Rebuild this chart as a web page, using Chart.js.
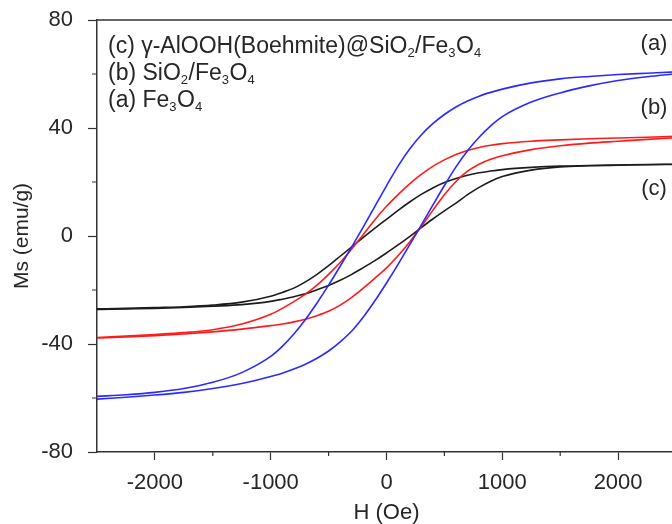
<!DOCTYPE html>
<html>
<head>
<meta charset="utf-8">
<script src="https://cdn.jsdelivr.net/npm/chart.js@4/dist/chart.umd.min.js"></script>
<style>
  html, body { margin: 0; padding: 0; background: #fff; overflow: hidden; width: 672px; height: 524px; }
  #wrap { width: 680px; height: 524px; }
</style>
</head>
<body>
<div id="wrap"><canvas id="c" width="680" height="524"></canvas></div>
<script>
// Field values (Oe)
const H = [-2500,-2250,-2000,-1750,-1500,-1250,-1000,-900,-800,-700,-600,-500,-400,-300,-200,-100,0,100,200,300,400,500,600,700,800,900,1000,1250,1500,1750,2000,2250,2500];

// (a) Fe3O4 — blue (descending branch / ascending branch)
const feUpper = [-59.4,-58.8,-57.9,-56.5,-54.2,-50.6,-44.6,-40.9,-36.3,-30.9,-24.8,-18.2,-11.2,-4.0,3.4,11.0,18.6,25.9,32.2,37.4,41.6,45.0,47.8,50.0,51.8,53.2,54.4,56.7,58.2,59.1,59.8,60.3,60.8];
const feLower = [-60.4,-59.7,-58.9,-57.9,-56.5,-54.6,-52.0,-50.8,-49.3,-47.5,-45.3,-42.6,-39.2,-35.2,-30.0,-24.0,-17.4,-10.5,-3.3,4.0,11.4,18.7,25.6,31.6,36.6,40.8,44.2,49.6,53.0,55.6,57.6,59.0,60.1];

// (b) SiO2/Fe3O4 — red
const siUpper = [-37.6,-37.1,-36.5,-35.8,-34.7,-32.6,-29.0,-26.8,-24.3,-21.5,-18.2,-14.2,-9.8,-4.8,0.6,6.0,11.0,15.3,19.3,22.8,25.8,28.2,30.2,31.7,32.8,33.6,34.2,35.1,35.6,36.0,36.3,36.6,36.9];
const siLower = [-37.8,-37.4,-36.9,-36.3,-35.5,-34.5,-33.2,-32.6,-31.8,-30.8,-29.5,-27.9,-25.6,-22.7,-19.3,-15.6,-11.8,-7.3,-2.2,3.5,9.5,15.3,20.2,24.0,26.6,28.4,29.7,32.0,33.4,34.4,35.1,35.8,36.4];

// (c) γ-AlOOH(Boehmite)@SiO2/Fe3O4 — black
const alUpper = [-27.0,-26.8,-26.5,-26.2,-25.6,-24.5,-22.3,-20.9,-19.3,-17.0,-14.2,-11.0,-7.5,-4.0,-0.5,2.9,6.2,9.5,12.6,15.4,17.8,19.8,21.3,22.5,23.4,24.1,24.6,25.4,25.9,26.1,26.3,26.5,26.6];
const alLower = [-27.2,-27.0,-26.8,-26.5,-26.0,-25.4,-24.2,-23.4,-22.5,-21.4,-19.9,-18.3,-16.4,-14.2,-11.7,-9.1,-6.3,-3.3,-0.2,3.1,6.3,9.3,12.2,15.3,18.0,20.3,22.0,24.4,25.6,26.0,26.2,26.4,26.5];

// Axis ticks
const xMajor = [-2000,-1000,0,1000,2000];
const xMinor = [-1500,-500,500,1500];
const yMajor = [-80,-40,0,40,80];
const yMinor = [-60,-20,20,60];

// Curve labels placed in data coordinates
const curveLabels = ['(a)','(b)','(c)'];
const curveLabelX = [2310,2310,2310];
const curveLabelY = [71,47.3,17.6];

// Legend text lines (segments, 1 = subscript)
const legendLines = [
  [['(c) γ-AlOOH(Boehmite)@SiO',0],['2',1],['/Fe',0],['3',1],['O',0],['4',1]],
  [['(b) SiO',0],['2',1],['/Fe',0],['3',1],['O',0],['4',1]],
  [['(a) Fe',0],['3',1],['O',0],['4',1]]
];

const FONT = '"Liberation Sans", Arial, Helvetica, sans-serif';
const TXT = '#262626';
const AX = '#333333';

function pts(ys){ return H.map((h,i)=>({x:h,y:ys[i]})); }
function ds(ys,color){
  return {data:pts(ys), borderColor:color, borderWidth:1.6, pointRadius:0,
          cubicInterpolationMode:'monotone', fill:false};
}

const overlay = {
  id:'overlay',
  afterDraw(chart){
    const {ctx, chartArea:a, scales:{x,y}} = chart;
    ctx.save();
    ctx.strokeStyle = AX; ctx.lineWidth = 1.5;
    ctx.beginPath();
    ctx.moveTo(a.left, a.top); ctx.lineTo(a.right, a.top); ctx.lineTo(a.right, a.bottom);
    ctx.stroke();
    ctx.lineWidth = 1.2;
    ctx.beginPath();
    xMinor.forEach(v=>{const px=x.getPixelForValue(v); ctx.moveTo(px,a.bottom); ctx.lineTo(px,a.bottom+4);});
    yMinor.forEach(v=>{const py=y.getPixelForValue(v); ctx.moveTo(a.left,py); ctx.lineTo(a.left-5,py);});
    ctx.stroke();
    ctx.fillStyle = TXT;
    ctx.font = '22px ' + FONT;
    ctx.textAlign = 'center'; ctx.textBaseline = 'middle';
    curveLabels.forEach((t,i)=>{
      ctx.fillText(t, x.getPixelForValue(curveLabelX[i]), y.getPixelForValue(curveLabelY[i]));
    });
    ctx.textAlign = 'left'; ctx.textBaseline = 'alphabetic';
    const lx = a.left + 11, ly0 = a.top + 33, lh = 26.8;
    legendLines.forEach((line,li)=>{
      let cx = lx; const by = ly0 + li*lh;
      line.forEach(([t,sub])=>{
        ctx.font = (sub ? '13px ' : '23px ') + FONT;
        ctx.fillText(t, cx, sub ? by + 4 : by);
        cx += ctx.measureText(t).width + (sub ? 0.5 : 0);
      });
    });
    ctx.restore();
  }
};

new Chart(document.getElementById('c'), {
  type:'line',
  data:{ datasets:[
    ds(feUpper,'#2a2aff'), ds(feLower,'#2a2aff'),
    ds(siUpper,'#ff1a1a'), ds(siLower,'#ff1a1a'),
    ds(alUpper,'#1c1c1c'), ds(alLower,'#1c1c1c')
  ]},
  options:{
    responsive:false, animation:false, devicePixelRatio:1,
    layout:{padding:{top:20,right:4,left:0,bottom:0}},
    plugins:{legend:{display:false}, tooltip:{enabled:false}},
    scales:{
      x:{
        type:'linear', min:-2500, max:2500,
        afterBuildTicks(s){ s.ticks = xMajor.map(v=>({value:v})); },
        afterFit(s){ s.height = 72; s.paddingLeft = 0; s.paddingRight = 0; },
        grid:{drawOnChartArea:false, drawTicks:true, tickLength:8, tickColor:AX, tickWidth:1.2},
        border:{display:true, color:AX, width:1.5},
        ticks:{color:TXT, font:{family:FONT, size:22}, padding:10, maxRotation:0, autoSkip:false,
               callback:(v)=>String(v)},
        title:{display:true, text:'H (Oe)', color:TXT, font:{family:FONT, size:22, lineHeight:1.0}, padding:{top:0,bottom:0}}
      },
      y:{
        type:'linear', min:-80, max:80,
        afterBuildTicks(s){ s.ticks = yMajor.map(v=>({value:v})); },
        afterFit(s){ s.width = 97; s.paddingTop = 0; s.paddingBottom = 0; },
        grid:{drawOnChartArea:false, drawTicks:true, tickLength:9, tickColor:AX, tickWidth:1.2},
        border:{display:true, color:AX, width:1.5},
        ticks:{color:TXT, font:{family:FONT, size:22}, padding:15, autoSkip:false,
               callback:(v)=>String(v)},
        title:{display:true, text:'Ms (emu/g)', color:TXT, font:{family:FONT, size:21}, padding:{top:10,bottom:0}}
      }
    }
  },
  plugins:[overlay]
});
</script>
</body>
</html>
